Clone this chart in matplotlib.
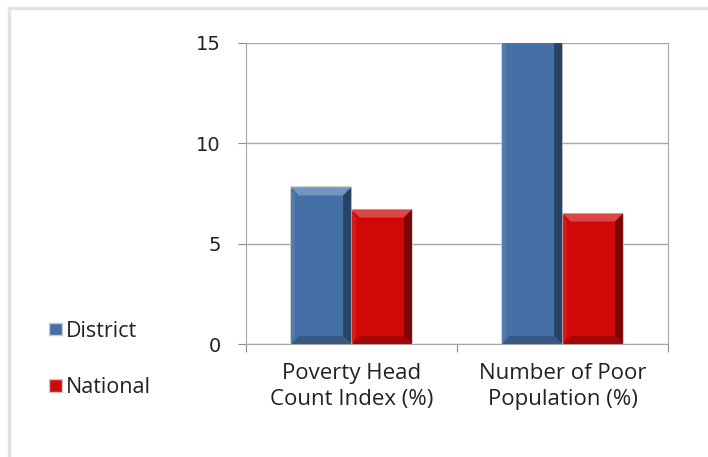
import matplotlib
matplotlib.use("Agg")
import matplotlib.pyplot as plt
from matplotlib.patches import Polygon, Rectangle, Patch
import numpy as np

# data
categories = ["Poverty Head\nCount Index (%)", "Number of Poor\nPopulation (%)"]
district = [7.8, 20.0]   # second bar runs off the top of the axis
national = [6.7, 6.5]
series_names = ["District", "National"]

blue = "#4470a5"
red = "#d00808"

plt.rcParams['font.family'] = ['Open Sans', 'DejaVu Sans']

fig = plt.figure(figsize=(7.08, 4.57), dpi=100)
ax = fig.add_axes([246 / 708, 1 - 344 / 457, 422 / 708, 301 / 457])

x = np.arange(len(categories))
w = 0.285
off = 0.144

ax.set_xlim(-0.5, 1.5)
ax.set_ylim(0, 15)

def shade(c, f):
    rgb = np.array(matplotlib.colors.to_rgb(c))
    if f > 0:
        return tuple(rgb + (1 - rgb) * f)
    return tuple(rgb * (1 + f))

def bevel_bar(xc, h, color):
    x0, x1 = xc - w / 2, xc + w / 2
    ax.bar(xc, h, w, color=color, edgecolor="#c8c8c8", linewidth=1.2, zorder=3)
    bx = 8 / 211      # bevel width in data units (~8 px)
    by = 8 / 301 * 15  # bevel height in data units (~8 px)
    polys = [
        ([(x0, h), (x1, h), (x1 - bx, h - by), (x0 + bx, h - by)], shade(color, 0.25)),
        ([(x1, h), (x1, 0), (x1 - bx, by), (x1 - bx, h - by)], shade(color, -0.4)),
        ([(x0, 0), (x1, 0), (x1 - bx, by), (x0 + bx, by)], shade(color, -0.2)),
        ([(x0, 0), (x0, h), (x0 + bx / 2, h - by), (x0 + bx / 2, by)], shade(color, 0.08)),
    ]
    for pts, col in polys:
        ax.add_patch(Polygon(pts, closed=True, facecolor=col, edgecolor="none", zorder=4))

for i in range(len(categories)):
    bevel_bar(x[i] - off, district[i], blue)
    bevel_bar(x[i] + off, national[i], red)

ax.set_yticks([0, 5, 10, 15])
ax.yaxis.grid(True, color="#a6a6a6", linewidth=1)
ax.set_axisbelow(True)
ax.tick_params(axis="y", length=6, color="#8c8c8c", labelsize=14, pad=12, labelcolor="#222222")
for lab in ax.get_yticklabels():
    lab.set_family("DejaVu Sans")

ax.set_xticks([-0.5, 0.5, 1.5])
ax.set_xticklabels([])
ax.set_xticks(x, minor=True)
ax.set_xticklabels(categories, minor=True, fontsize=16, color="#222222", linespacing=1.3)
ax.tick_params(axis="x", which="major", length=6, color="#8c8c8c")
ax.tick_params(axis="x", which="minor", length=0, pad=14)

for s in ["left", "right", "bottom"]:
    ax.spines[s].set_color("#a6a6a6")
ax.spines["top"].set_visible(False)

handles = [Patch(facecolor=blue, edgecolor="#c8c8c8"), Patch(facecolor=red, edgecolor="#c8c8c8")]
fig.legend(handles, series_names, loc="upper left", bbox_to_anchor=(40 / 708, 1 - 312 / 457),
           frameon=False, fontsize=15.5, handlelength=0.6, handleheight=0.55,
           handletextpad=0.2, labelspacing=1.65, borderaxespad=0, labelcolor="#222222")

fig.patches.append(Rectangle((9 / 708, -0.1), 1.2, (457 - 8) / 457 + 0.1,
                             transform=fig.transFigure, fill=False,
                             edgecolor="#e2e2e2", linewidth=2.5))

fig.savefig("out.png", dpi=100)
